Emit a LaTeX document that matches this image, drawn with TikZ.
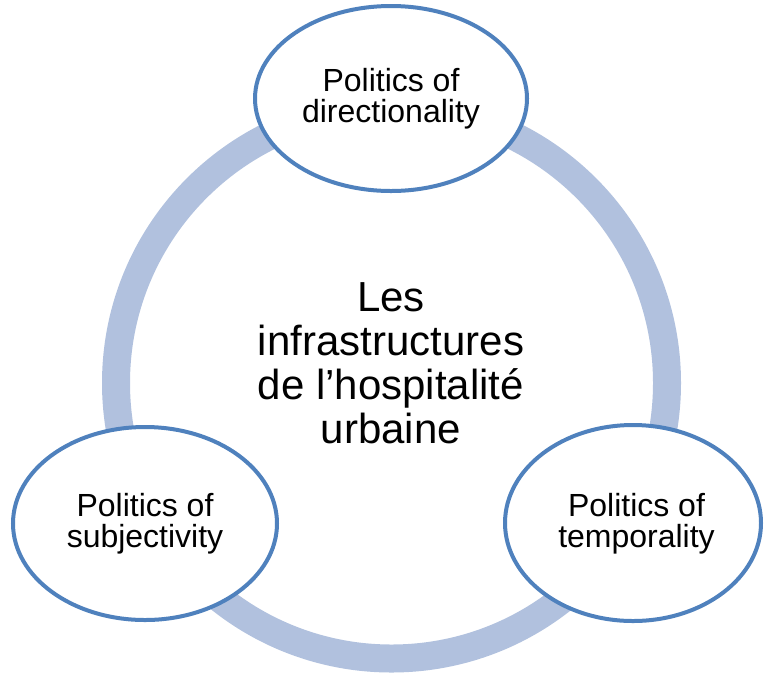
\documentclass[tikz,border=0pt]{standalone}
\usepackage{fontspec}
\setmainfont{Liberation Sans}
\usetikzlibrary{shapes.geometric}
\definecolor{ringblue}{RGB}{177,193,222}
\definecolor{edgeblue}{RGB}{79,129,189}
\tikzset{
  bubble/.style={ellipse, draw=edgeblue, line width=4pt, fill=white, inner sep=0pt},
  smalltext/.style={align=center, inner sep=0pt, font=\fontsize{32pt}{31pt}\selectfont},
  bigtext/.style={align=center, inner sep=0pt, font=\fontsize{42pt}{44pt}\selectfont},
}
\begin{document}
\begin{tikzpicture}[x=1pt,y=-1pt]
\useasboundingbox (0,0) rectangle (765,673);
\coordinate (c) at (391.5,383);
\draw[ringblue, line width=28pt] (c) circle[radius=275.5];
\node[bubble, minimum width=272pt, minimum height=185pt] (top) at (391,98.5) {};
\node[bubble, minimum width=264pt, minimum height=193pt] (left) at (145,523.5) {};
\node[bubble, minimum width=256pt, minimum height=196pt] (right) at (633,523) {};
\node[smalltext] (toptext) at (391,99.2) {Politics of\\directionality};
\node[smalltext] (lefttext) at (145,524.2) {Politics of\\subjectivity};
\node[smalltext] (righttext) at (636.5,524.2) {Politics of\\temporality};
\node[bigtext] (centre) at (391,363) {Les\\infrastructures\\de l’hospitalité\\urbaine};
\end{tikzpicture}
\end{document}
